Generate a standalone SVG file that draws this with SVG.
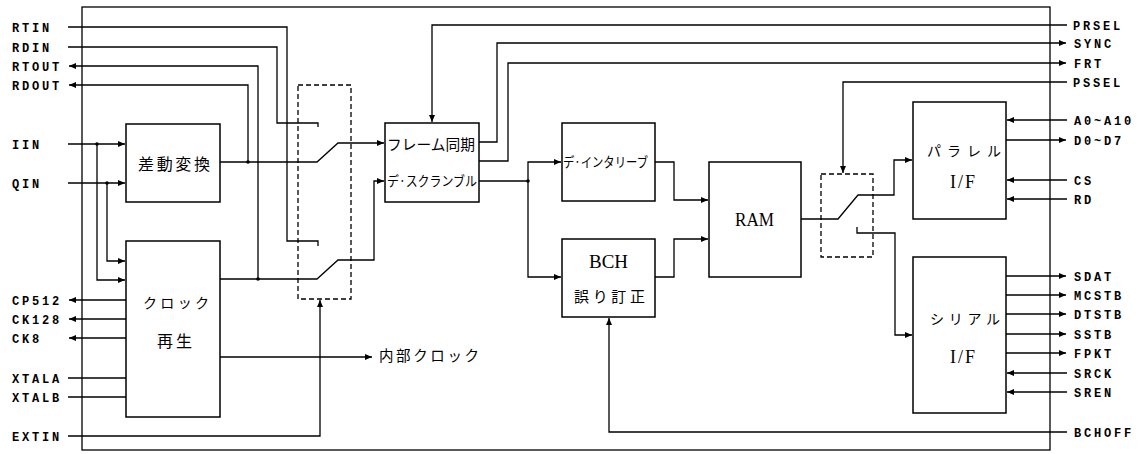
<svg xmlns="http://www.w3.org/2000/svg" width="1140" height="454" viewBox="0 0 1140 454">
<defs>
<marker id="ar" markerUnits="userSpaceOnUse" markerWidth="8" markerHeight="6" refX="7" refY="3" orient="auto">
<path d="M0,0 L7,3 L0,6 z" fill="#000"/>
</marker>
<style>
.ln{fill:none;stroke:#000;stroke-width:1.3}
.ar{marker-end:url(#ar)}
.bx{fill:#fff;stroke:#000;stroke-width:1.5}
.ds{fill:none;stroke:#000;stroke-width:1.3;stroke-dasharray:5,3}
.lb{font-family:"Liberation Mono","DejaVu Sans Mono",monospace;font-size:12px;font-weight:bold;letter-spacing:2.8px;fill:#000}
.jp{font-family:"Noto Sans CJK JP","Noto Sans",sans-serif;fill:#000}
.sf{font-family:"Liberation Serif",serif;fill:#000}
.dot{fill:#000}
</style>
</defs>
<rect width="1140" height="454" fill="#fff"/>
<rect x="82" y="7" width="968" height="443" class="ln"/>

<g id="connectors">
<path class="ln" d="M68,27 H287 V241 H318 V246"/>
<path class="ln" d="M68,47 H277 V123 H318 V127"/>
<path class="ln ar" d="M258,279 V66 H69"/>
<path class="ln ar" d="M248,162 V85 H69"/>
<path class="ln ar" d="M68,144 H125"/>
<path class="ln ar" d="M97,144 V280 H125"/>
<path class="ln ar" d="M68,183 H125"/>
<path class="ln ar" d="M107,183 V261 H125"/>
<path class="ln ar" d="M126,300 H69"/>
<path class="ln ar" d="M126,319 H69"/>
<path class="ln ar" d="M126,338 H69"/>
<path class="ln" d="M68,378 H126"/>
<path class="ln" d="M68,397 H126"/>
<path class="ln ar" d="M68,436 H320 V300"/>
<path class="ln ar" d="M220,357 H372"/>
<path class="ln ar" d="M220,162 H317 L338,143 H384"/>
<path class="ln ar" d="M220,279 H317 L338,260 H374 V181 H384"/>
<path class="ln ar" d="M1067,25 H432 V122"/>
<path class="ln ar" d="M479,142 H497 V43 H1066"/>
<path class="ln ar" d="M479,161 H508 V63 H1066"/>
<path class="ln" d="M479,181 H528"/>
<path class="ln ar" d="M528,181 V162 H561"/>
<path class="ln ar" d="M528,181 V277 H561"/>
<path class="ln ar" d="M655,162 H674 V200 H708"/>
<path class="ln ar" d="M655,277 H674 V239 H708"/>
<path class="ln ar" d="M1067,432 H609 V318"/>
<path class="ln ar" d="M801,219 H838 L858,195 H894 V160 H912"/>
<path class="ln ar" d="M857,227 V233 H895 V335 H912"/>
<path class="ln ar" d="M1067,82 H843 V173"/>
<path class="ln ar" d="M1067,120 H1007"/>
<path class="ln ar" d="M1006,140 H1066"/>
<path class="ln ar" d="M1067,180 H1007"/>
<path class="ln ar" d="M1067,199 H1007"/>
<path class="ln ar" d="M1006,276 H1066"/>
<path class="ln ar" d="M1006,295 H1066"/>
<path class="ln ar" d="M1006,314 H1066"/>
<path class="ln ar" d="M1006,334 H1066"/>
<path class="ln ar" d="M1006,353 H1066"/>
<path class="ln ar" d="M1067,373 H1007"/>
<path class="ln ar" d="M1067,392 H1007"/>
<circle class="dot" cx="97" cy="144" r="1.8"/>
<circle class="dot" cx="107" cy="183" r="1.8"/>
<circle class="dot" cx="248" cy="162" r="1.8"/>
<circle class="dot" cx="258" cy="279" r="1.8"/>
<circle class="dot" cx="528" cy="181" r="1.8"/>
</g>

<g id="switch1"><rect class="ds" x="298" y="85" width="53" height="214"/></g>
<g id="switch2"><rect class="ds" x="821" y="174" width="52" height="83"/></g>

<g id="diff">
<rect class="bx" x="126" y="124" width="94" height="78"/>
<text class="jp" x="138" y="170" font-size="16" textLength="72" lengthAdjust="spacing">差動変換</text>
</g>
<g id="clock">
<rect class="bx" x="126" y="241" width="94" height="176"/>
<text class="jp" x="143" y="308" font-size="14" textLength="66" lengthAdjust="spacing">クロック</text>
<text class="jp" x="157" y="347" font-size="16" textLength="35" lengthAdjust="spacing">再生</text>
</g>
<g id="frame">
<rect class="bx" x="385" y="123" width="94" height="79"/>
<text class="jp" x="387" y="150" font-size="14.5" textLength="88" lengthAdjust="spacingAndGlyphs">フレーム同期</text>
<text class="jp" x="387" y="186" font-size="13.5" textLength="90" lengthAdjust="spacingAndGlyphs">デ·スクランブル</text>
</g>
<g id="deint">
<rect class="bx" x="562" y="123" width="93" height="78"/>
<text class="jp" x="563" y="167" font-size="13.5" textLength="85" lengthAdjust="spacingAndGlyphs">デ·インタリーブ</text>
</g>
<g id="bch">
<rect class="bx" x="562" y="239" width="93" height="78"/>
<text class="sf" x="589" y="268" font-size="18" textLength="39" lengthAdjust="spacingAndGlyphs">BCH</text>
<text class="jp" x="574" y="302" font-size="15" textLength="71" lengthAdjust="spacing">誤り訂正</text>
</g>
<g id="ram">
<rect class="bx" x="709" y="162" width="92" height="115"/>
<text class="sf" x="735" y="226" font-size="18" textLength="39" lengthAdjust="spacingAndGlyphs">RAM</text>
</g>
<g id="parallel">
<rect class="bx" x="913" y="102" width="93" height="117"/>
<text class="jp" x="927" y="156" font-size="14" textLength="74" lengthAdjust="spacing">パラレル</text>
<text class="sf" x="950" y="188" font-size="18" textLength="25" lengthAdjust="spacing">I/F</text>
</g>
<g id="serial">
<rect class="bx" x="913" y="257" width="93" height="156"/>
<text class="jp" x="930" y="324" font-size="14" textLength="70" lengthAdjust="spacing">シリアル</text>
<text class="sf" x="950" y="363" font-size="18" textLength="25" lengthAdjust="spacing">I/F</text>
</g>
<g id="internal-clock">
<text class="jp" x="379" y="361" font-size="14.5" textLength="100" lengthAdjust="spacing">内部クロック</text>
</g>

<g id="labels-left">
<text class="lb" x="12" y="32">RTIN</text>
<text class="lb" x="12" y="52">RDIN</text>
<text class="lb" x="12" y="71">RTOUT</text>
<text class="lb" x="12" y="90">RDOUT</text>
<text class="lb" x="12" y="149">IIN</text>
<text class="lb" x="12" y="188">QIN</text>
<text class="lb" x="12" y="305">CP512</text>
<text class="lb" x="12" y="324">CK128</text>
<text class="lb" x="12" y="343">CK8</text>
<text class="lb" x="12" y="383">XTALA</text>
<text class="lb" x="12" y="402">XTALB</text>
<text class="lb" x="12" y="441">EXTIN</text>
</g>
<g id="labels-right">
<text class="lb" x="1073" y="30">PRSEL</text>
<text class="lb" x="1074" y="48">SYNC</text>
<text class="lb" x="1074" y="68">FRT</text>
<text class="lb" x="1073" y="87">PSSEL</text>
<text class="lb" x="1074" y="125">A0~A10</text>
<text class="lb" x="1074" y="145">D0~D7</text>
<text class="lb" x="1074" y="185">CS</text>
<text class="lb" x="1074" y="204">RD</text>
<text class="lb" x="1074" y="281">SDAT</text>
<text class="lb" x="1074" y="300">MCSTB</text>
<text class="lb" x="1074" y="319">DTSTB</text>
<text class="lb" x="1074" y="339">SSTB</text>
<text class="lb" x="1074" y="358">FPKT</text>
<text class="lb" x="1074" y="378">SRCK</text>
<text class="lb" x="1074" y="397">SREN</text>
<text class="lb" x="1074" y="437">BCHOFF</text>
</g>
</svg>
